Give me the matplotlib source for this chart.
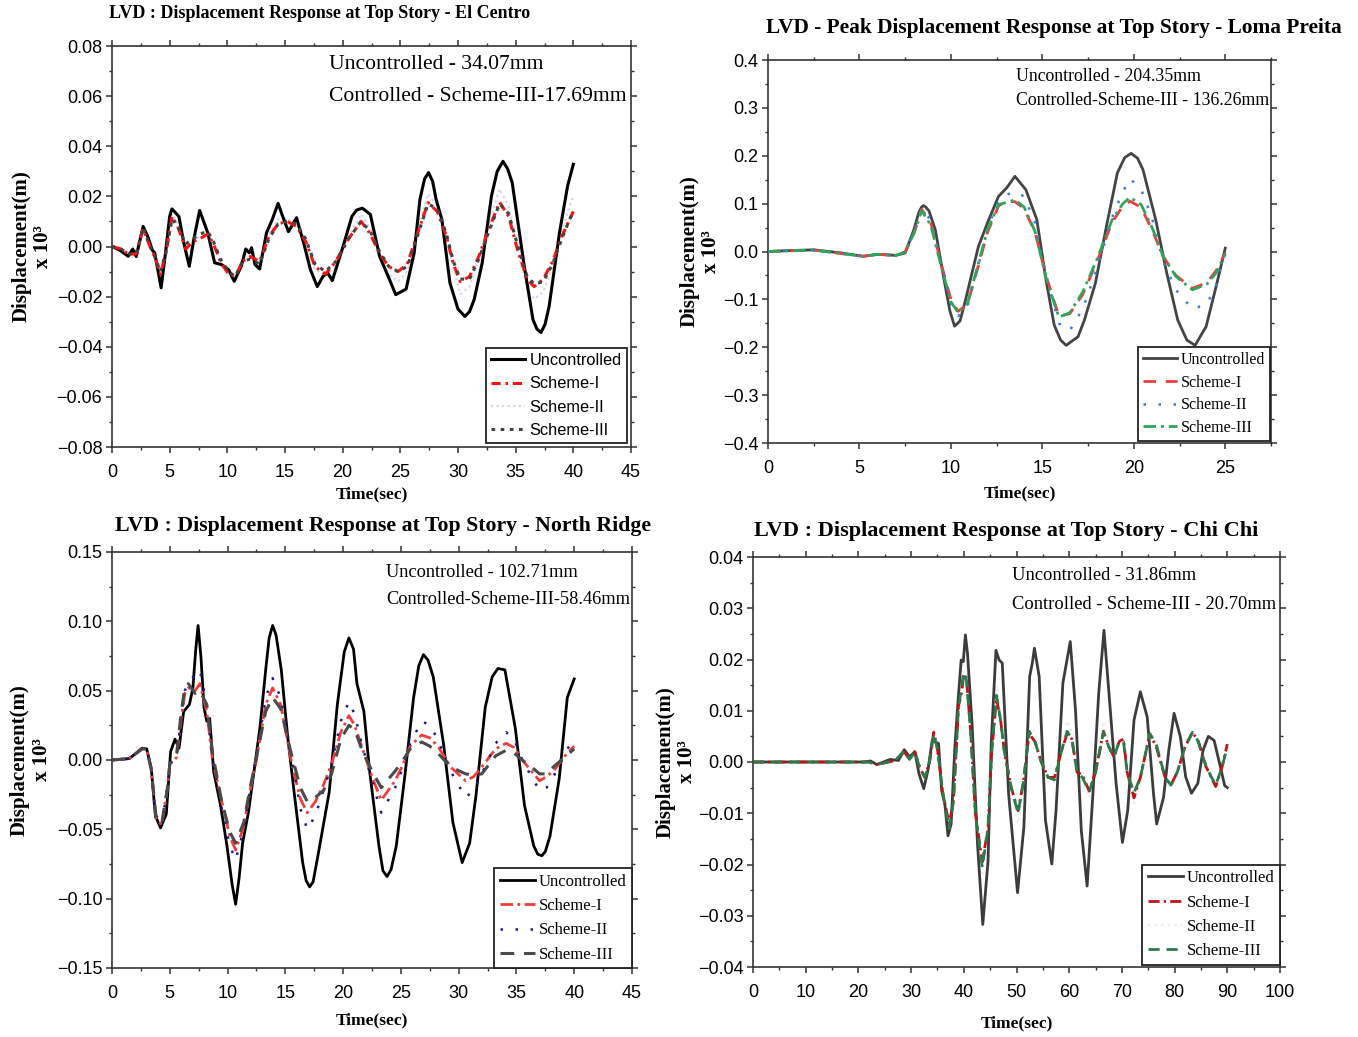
import matplotlib
matplotlib.use("Agg")
import matplotlib.pyplot as plt
from matplotlib import font_manager as fm
from matplotlib.ticker import MultipleLocator, FuncFormatter

# ---------------- El Centro ----------------
elc_t_unc = [0, 0.7, 1.4, 1.8, 2.1, 2.7, 3.1, 3.5, 3.7, 4.0, 4.26, 4.6, 5.0, 5.2, 5.8, 6.2, 6.7, 7.1,
             7.6, 8.3, 8.9, 9.5, 10.1, 10.6, 11.2, 11.6, 11.9, 12.1, 12.4, 12.8, 13.4, 13.9, 14.4,
             14.8, 15.3, 16.0, 16.7, 17.2, 17.8, 18.3, 18.7, 19.1, 20.0, 20.8, 21.2, 21.7, 22.4,
             23.2, 24.0, 24.6, 25.5, 26.2, 26.7, 27.1, 27.45, 27.8, 28.1, 28.6, 29.3, 30.0, 30.6,
             31.0, 31.4, 32.1, 32.9, 33.4, 33.9, 34.3, 34.7, 35.7, 36.5, 36.85, 37.2, 37.55, 37.9,
             38.8, 39.5, 40.0]
elc_unc = [0, -0.0015, -0.0039, -0.001, -0.004, 0.008, 0.004, -0.0015, -0.0025, -0.010, -0.0165,
           -0.004, 0.012, 0.015, 0.012, 0.002, -0.0079, 0.003, 0.0144, 0.0055, -0.0065, -0.0072,
           -0.0092, -0.0139, -0.0079, -0.001, -0.0025, -0.0005, -0.0072, -0.009, 0.0055, 0.0108,
           0.0172, 0.012, 0.0059, 0.0115, 0.0, -0.0092, -0.016, -0.0119, -0.0105, -0.0136, -0.0005,
           0.012, 0.0145, 0.0153, 0.0128, -0.0039, -0.0125, -0.0192, -0.017, -0.0025, 0.0188, 0.027,
           0.0295, 0.026, 0.0188, 0.0108, -0.0145, -0.025, -0.0279, -0.026, -0.0212, -0.0065,
           0.0201, 0.030, 0.034, 0.031, 0.0255, -0.0065, -0.0292, -0.033, -0.0343, -0.031, -0.0239,
           0.0055, 0.0241, 0.0328]
elc_t_ctrl = [0, 0.8, 1.4, 2.1, 2.7, 3.3, 3.7, 4.2, 4.7, 5.2, 5.7, 6.4, 7.0, 7.6, 8.3, 8.8, 9.4, 10.1,
              10.7, 11.3, 12.0, 12.8, 13.6, 14.4, 15.2, 16.0, 16.8, 17.6, 18.5, 19.4, 20.5, 21.6,
              22.4, 23.2, 24.0, 24.8, 25.6, 26.4, 27.4, 28.2, 29.0, 29.6, 30.2, 31.0, 31.8, 32.6,
              33.6, 34.4, 35.2, 36.0, 36.6, 37.4, 38.2, 39.0, 39.6, 40.0]
elc_s1 = [0, -0.001, -0.003, -0.003, 0.007, 0.0, -0.004, -0.011, -0.002, 0.012, 0.008, -0.001,
          0.002, 0.003, 0.005, 0.001, -0.006, -0.011, -0.012, -0.006, -0.004, -0.006, 0.004, 0.009,
          0.010, 0.008, 0.002, -0.008, -0.011, -0.006, 0.003, 0.010, 0.005, -0.003, -0.008, -0.010,
          -0.007, 0.004, 0.0175, 0.014, 0.004, -0.007, -0.014, -0.012, -0.004, 0.006, 0.0177, 0.012,
          -0.002, -0.013, -0.016, -0.013, -0.006, 0.004, 0.010, 0.014]
elc_s2 = [0, -0.001, -0.003, -0.003, 0.0075, 0.0, -0.004, -0.012, -0.002, 0.013, 0.009, -0.001,
          0.002, 0.004, 0.005, 0.001, -0.006, -0.012, -0.013, -0.006, -0.004, -0.007, 0.005, 0.011,
          0.011, 0.009, 0.002, -0.009, -0.012, -0.007, 0.004, 0.013, 0.007, -0.004, -0.011, -0.014,
          -0.010, 0.005, 0.021, 0.016, 0.004, -0.009, -0.019, -0.016, -0.005, 0.008, 0.023, 0.016,
          -0.002, -0.017, -0.021, -0.018, -0.008, 0.006, 0.015, 0.020]
elc_s3 = [0, -0.001, -0.003, -0.003, 0.0075, 0.0, -0.004, -0.010, -0.002, 0.011, 0.008, 0.001,
          0.003, 0.005, 0.006, 0.002, -0.005, -0.010, -0.012, -0.006, -0.005, -0.007, 0.003, 0.009,
          0.010, 0.009, 0.003, -0.007, -0.010, -0.006, 0.003, 0.010, 0.006, -0.002, -0.008, -0.010,
          -0.008, 0.003, 0.017, 0.015, 0.005, -0.006, -0.013, -0.013, -0.005, 0.005, 0.017, 0.013,
          0.0, -0.012, -0.015, -0.014, -0.007, 0.003, 0.010, 0.014]

# ---------------- Loma Preita ----------------
lp_t_unc = [0, 1.2, 2.5, 4.0, 5.2, 6.0, 7.0, 7.5, 7.97, 8.25, 8.4, 8.5, 8.62, 8.8, 9.15, 9.63, 9.95,
            10.2, 10.5, 10.8, 11.5, 12.0, 12.6, 13.05, 13.5, 14.1, 14.7, 15.2, 15.65, 16.0, 16.3,
            16.95, 17.3, 17.9, 18.5, 19.1, 19.5, 19.85, 20.2, 20.5, 21.2, 21.8, 22.4, 22.9, 23.35,
            23.95, 24.5, 25.0]
lp_unc = [0, 0.002, 0.0035, -0.003, -0.010, -0.006, -0.008, -0.003, 0.045, 0.082, 0.093, 0.096,
          0.093, 0.085, 0.045, -0.060, -0.125, -0.156, -0.145, -0.101, 0.010, 0.060, 0.115, 0.133,
          0.157, 0.129, 0.066, -0.060, -0.154, -0.185, -0.196, -0.178, -0.143, -0.066, 0.052,
          0.164, 0.196, 0.205, 0.195, 0.171, 0.066, -0.045, -0.143, -0.185, -0.196, -0.157,
          -0.073, 0.007]
lp_t_ctrl = [0, 2.5, 5.2, 6.0, 7.0, 7.5, 8.0, 8.4, 8.9, 9.5, 10.0, 10.4, 10.9, 11.5, 12.0, 12.6, 13.0,
             13.5, 14.0, 14.6, 15.2, 15.9, 16.5, 17.2, 18.0, 18.8, 19.4, 19.8, 20.4, 21.0, 21.6,
             22.3, 23.2, 24.0, 24.5, 25.0]
lp_s1 = [0, 0.003, -0.010, -0.006, -0.008, -0.001, 0.040, 0.088, 0.060, -0.030, -0.100, -0.125,
         -0.110, -0.030, 0.040, 0.095, 0.105, 0.104, 0.090, 0.040, -0.050, -0.135, -0.130, -0.090,
         -0.020, 0.060, 0.095, 0.105, 0.092, 0.045, -0.010, -0.050, -0.077, -0.065, -0.040, -0.003]
lp_s2 = [0, 0.003, -0.010, -0.006, -0.008, -0.001, 0.042, 0.090, 0.065, -0.030, -0.110, -0.135,
         -0.115, -0.030, 0.050, 0.105, 0.118, 0.125, 0.115, 0.060, -0.050, -0.150, -0.165, -0.120,
         -0.035, 0.070, 0.125, 0.152, 0.130, 0.070, -0.020, -0.080, -0.120, -0.110, -0.070, 0.000]
lp_s3 = [0, 0.003, -0.010, -0.006, -0.008, -0.001, 0.040, 0.085, 0.055, -0.035, -0.105, -0.128,
         -0.110, -0.025, 0.045, 0.098, 0.102, 0.108, 0.093, 0.042, -0.055, -0.137, -0.128, -0.085,
         -0.015, 0.065, 0.100, 0.113, 0.098, 0.050, -0.010, -0.052, -0.080, -0.068, -0.045, -0.005]

# ---------------- North Ridge ----------------
nr_t_unc = [0, 1.5, 2.6, 3.0, 3.4, 3.75, 4.2, 4.7, 5.07, 5.45, 5.8, 6.2, 6.7, 7.0, 7.25, 7.45, 7.7,
            7.96, 8.2, 8.45, 8.8, 9.4, 9.95, 10.4, 10.7, 11.0, 11.3, 11.8, 12.8, 13.3, 13.6, 13.9,
            14.2, 14.65, 15.2, 15.8, 16.5, 16.8, 17.1, 17.4, 17.8, 18.8, 19.5, 20.1, 20.5, 20.9,
            21.2, 21.8, 22.3, 23.1, 23.45, 23.8, 24.15, 24.6, 25.35, 26.1, 26.55, 26.95, 27.35,
            27.8, 28.7, 29.5, 30.3, 30.95, 31.5, 32.3, 32.9, 33.4, 34.0, 34.9, 35.7, 36.5, 36.85,
            37.2, 37.5, 37.9, 38.7, 39.4, 40.0]
nr_unc = [0, 0.001, 0.0085, 0.008, -0.006, -0.040, -0.049, -0.039, 0.006, 0.015, 0.0085, 0.035,
          0.040, 0.052, 0.080, 0.097, 0.074, 0.038, 0.028, 0.030, -0.0085, -0.033, -0.062, -0.090,
          -0.104, -0.085, -0.060, -0.038, 0.023, 0.065, 0.088, 0.097, 0.090, 0.065, 0.017, -0.026,
          -0.074, -0.087, -0.0915, -0.088, -0.070, -0.023, 0.040, 0.078, 0.088, 0.080, 0.055,
          0.035, -0.0085, -0.062, -0.080, -0.084, -0.079, -0.062, -0.011, 0.045, 0.068, 0.076,
          0.072, 0.060, 0.011, -0.045, -0.074, -0.060, -0.0255, 0.038, 0.060, 0.066, 0.065, 0.023,
          -0.033, -0.062, -0.068, -0.069, -0.066, -0.055, -0.0135, 0.045, 0.0585]
nr_t_ctrl = [0, 1.5, 2.6, 3.0, 3.4, 3.8, 4.3, 4.8, 5.0, 5.6, 6.0, 6.3, 6.6, 7.2, 7.6, 8.2, 8.7, 9.5,
             10.2, 10.7, 11.4, 12.0, 12.5, 13.3, 13.9, 14.6, 15.5, 16.3, 16.9, 17.6, 18.3, 19.0,
             19.8, 20.5, 21.0, 21.6, 22.5, 23.3, 24.5, 25.2, 25.8, 26.8, 27.5, 28.2, 29.3, 30.6,
             31.3, 32.0, 33.2, 34.1, 34.8, 35.5, 36.3, 37.0, 37.6, 38.2, 39.3, 40.0]
nr_s1 = [0, 0.001, 0.008, 0.008, -0.007, -0.042, -0.047, -0.020, -0.003, 0.002, 0.030, 0.048,
         0.052, 0.050, 0.055, 0.035, 0.0, -0.030, -0.055, -0.065, -0.048, -0.020, 0.0, 0.040, 0.052,
         0.040, 0.0, -0.028, -0.038, -0.030, -0.018, -0.003, 0.020, 0.032, 0.025, 0.010, -0.012,
         -0.029, -0.015, -0.003, 0.010, 0.018, 0.016, 0.010, -0.005, -0.015, -0.012, -0.005, 0.008,
         0.012, 0.009, 0.0, -0.008, -0.015, -0.012, -0.008, 0.004, 0.010]
nr_s2 = [0, 0.001, 0.008, 0.008, -0.007, -0.042, -0.047, -0.020, -0.003, 0.003, 0.030, 0.050,
         0.055, 0.062, 0.065, 0.040, 0.0, -0.035, -0.062, -0.072, -0.050, -0.020, 0.003, 0.045,
         0.059, 0.045, 0.005, -0.035, -0.050, -0.040, -0.022, -0.003, 0.028, 0.042, 0.033, 0.012,
         -0.015, -0.038, -0.020, -0.005, 0.012, 0.028, 0.025, 0.015, -0.008, -0.027, -0.022, -0.010,
         0.012, 0.020, 0.015, 0.0, -0.012, -0.022, -0.020, -0.012, 0.006, 0.017]
nr_s3 = [0, 0.001, 0.008, 0.008, -0.007, -0.040, -0.046, -0.020, -0.003, 0.005, 0.035, 0.052,
         0.055, 0.048, 0.050, 0.040, 0.005, -0.030, -0.052, -0.060, -0.045, -0.018, 0.002, 0.035,
         0.045, 0.037, 0.005, -0.020, -0.030, -0.027, -0.022, -0.010, 0.015, 0.025, 0.022, 0.008,
         -0.008, -0.020, -0.008, 0.0, 0.008, 0.013, 0.010, 0.005, -0.005, -0.010, -0.011, -0.010,
         0.003, 0.007, 0.005, 0.0, -0.005, -0.010, -0.010, -0.005, 0.003, 0.008]

# ---------------- Chi Chi ----------------
cc_t_unc = [0, 21.0, 22.3, 23.5, 26.0, 27.6, 28.7, 29.7, 30.7, 31.5, 32.4, 33.2, 34.0, 34.6, 35.2,
            35.8, 36.4, 37.0, 37.6, 38.3, 38.9, 39.5, 39.9, 40.3, 40.7, 41.6, 42.6, 43.6, 44.6,
            45.2, 46.1, 46.7, 47.3, 48.5, 50.2, 51.4, 52.5, 53.0, 53.4, 54.3, 55.5, 56.7, 57.5,
            58.8, 60.2, 61.2, 62.3, 63.4, 64.5, 65.6, 66.6, 67.6, 68.9, 70.1, 71.1, 72.3, 73.5,
            74.8, 76.0, 76.6, 77.9, 78.9, 79.9, 81.1, 82.1, 83.2, 84.4, 85.4, 86.4, 87.5, 88.7,
            89.5, 90.0]
cc_unc = [0, 0, 0.0002, -0.0005, 0.0005, 0.0003, 0.0024, 0.001, 0.002, -0.0023, -0.0052, -0.0016,
          0.0042, 0.0039, 0.0036, -0.0056, -0.0082, -0.0144, -0.0121, 0.0029, 0.0118, 0.0199,
          0.0196, 0.0248, 0.0212, 0.0069, -0.016, -0.0317, -0.0193, 0.0036, 0.0218, 0.0199,
          0.0193, -0.0062, -0.0255, -0.0127, 0.0167, 0.0193, 0.0222, 0.0167, -0.0114, -0.0199,
          -0.0095, 0.0154, 0.0235, 0.0101, -0.0134, -0.0242, -0.0062, 0.0134, 0.0257, 0.0127,
          -0.0042, -0.0157, -0.0095, 0.0082, 0.0137, 0.0088, -0.0062, -0.0121, -0.0069, 0.0023,
          0.0095, 0.0049, -0.0029, -0.0061, -0.0042, 0.0023, 0.005, 0.0042, -0.001, -0.0046,
          -0.005]
cc_t_ctrl = [0, 22.0, 23.5, 27.0, 28.7, 29.7, 30.7, 31.6, 32.6, 33.5, 34.3, 35.0, 36.0, 37.2, 38.0,
             38.6, 39.0, 39.5, 40.0, 40.5, 41.3, 42.2, 43.5, 44.6, 45.3, 46.2, 47.0, 47.7, 49.0,
             50.3, 51.3, 52.4, 53.5, 54.7, 56.0, 57.2, 58.5, 59.6, 60.5, 61.5, 62.5, 63.8, 65.0,
             66.5, 67.5, 68.5, 69.5, 70.3, 71.0, 72.3, 73.5, 75.3, 76.5, 78.2, 79.3, 80.5, 82.0,
             83.4, 84.5, 86.0, 87.8, 89.0, 90.0]
cc_s1 = [0, 0, -0.0005, 0.0003, 0.002, 0.0005, 0.002, -0.001, -0.003, 0.0, 0.0058, 0.0025, -0.006,
         -0.012, -0.008, 0.003, 0.011, 0.013, 0.017, 0.0165, 0.006, -0.010, -0.0195, -0.013, 0.002,
         0.0125, 0.008, 0.002, -0.005, -0.0095, -0.004, 0.0055, 0.004, 0.0, -0.003, -0.003, 0.002,
         0.0055, 0.0045, -0.002, -0.0025, -0.0057, -0.002, 0.006, 0.003, 0.001, 0.004, 0.0045,
         -0.002, -0.007, -0.003, 0.0055, 0.003, -0.003, -0.0045, -0.002, 0.003, 0.0058, 0.004,
         -0.001, -0.0048, -0.001, 0.0035]
cc_s2 = [0, 0, -0.0005, 0.0003, 0.0022, 0.0005, 0.002, -0.0012, -0.0035, 0.0, 0.0065, 0.003,
         -0.007, -0.014, -0.009, 0.004, 0.013, 0.016, 0.020, 0.019, 0.007, -0.012, -0.023, -0.015,
         0.002, 0.015, 0.010, 0.002, -0.006, -0.012, -0.005, 0.007, 0.006, 0.0, -0.004, -0.004,
         0.003, 0.008, 0.006, -0.003, -0.004, -0.007, -0.002, 0.008, 0.004, 0.001, 0.005, 0.005,
         -0.003, -0.008, -0.004, 0.006, 0.004, -0.004, -0.005, -0.002, 0.004, 0.006, 0.004, -0.001,
         -0.005, -0.001, 0.003]
cc_s3 = [0, 0, -0.0005, 0.0003, 0.0022, 0.0005, 0.002, -0.001, -0.003, 0.0, 0.0055, 0.0025,
         -0.0058, -0.013, -0.008, 0.003, 0.011, 0.014, 0.0175, 0.016, 0.006, -0.010, -0.0205,
         -0.013, 0.002, 0.013, 0.008, 0.002, -0.005, -0.010, -0.004, 0.006, 0.004, 0.0, -0.003,
         -0.0035, 0.002, 0.006, 0.0045, -0.002, -0.003, -0.0058, -0.002, 0.0058, 0.003, 0.001,
         0.004, 0.004, -0.002, -0.006, -0.003, 0.0055, 0.0035, -0.003, -0.0045, -0.002, 0.003,
         0.0058, 0.004, -0.001, -0.0045, -0.001, 0.003]

series_labels = ["Uncontrolled", "Scheme-I", "Scheme-II", "Scheme-III"]

titles = ["LVD : Displacement Response at Top Story - El Centro",
          "LVD - Peak Displacement Response at Top Story - Loma Preita",
          "LVD : Displacement Response at Top Story - North Ridge",
          "LVD : Displacement Response at Top Story - Chi Chi"]
notes = [("Uncontrolled - 34.07mm", "Controlled - Scheme-III-17.69mm"),
         ("Uncontrolled - 204.35mm", "Controlled-Scheme-III - 136.26mm"),
         ("Uncontrolled - 102.71mm", "Controlled-Scheme-III-58.46mm"),
         ("Uncontrolled - 31.86mm", "Controlled - Scheme-III - 20.70mm")]

# ---------------- fonts ----------------
installed = {f.name for f in fm.fontManager.ttflist}
SERIF = "Liberation Serif"
if "Liberation Sans Narrow" in installed:
    SANS, TICK_FS, LEG_SANS_FS = "Liberation Sans Narrow", 15, 14
else:
    SANS, TICK_FS, LEG_SANS_FS = "Liberation Sans", 13, 11.8

W, H = 1358, 1037
fig = plt.figure(figsize=(W / 100, H / 100), dpi=100)


def px_axes(left, top, right, bottom):
    return fig.add_axes([left / W, 1 - bottom / H, (right - left) / W, (bottom - top) / H])


def fmt(decimals):
    def f(v, pos):
        if abs(v) < 1e-9:
            v = 0.0
        s = ("%." + str(decimals) + "f") % abs(v)
        return s if v >= 0 else "\u2212" + s
    return FuncFormatter(f)


def style_axes(ax, xlim, ylim, xmaj, xmin, ymaj, ymin, ydec):
    ax.set_xlim(*xlim)
    ax.set_ylim(*ylim)
    ax.xaxis.set_major_locator(MultipleLocator(xmaj))
    ax.xaxis.set_minor_locator(MultipleLocator(xmin))
    ax.yaxis.set_major_locator(MultipleLocator(ymaj))
    ax.yaxis.set_minor_locator(MultipleLocator(ymin))
    ax.yaxis.set_major_formatter(fmt(ydec))
    ax.xaxis.set_major_formatter(FuncFormatter(lambda v, p: "%d" % round(v)))
    ax.tick_params(which="both", direction="out", top=True, right=True,
                   labeltop=False, labelright=False, colors="#333333")
    ax.tick_params(which="major", length=4, width=1.1, labelsize=TICK_FS, labelcolor="black")
    ax.tick_params(axis="y", which="major", pad=3)
    ax.tick_params(axis="x", which="major", pad=8)
    ax.tick_params(which="minor", length=2.2, width=1.0)
    for lab in ax.get_xticklabels() + ax.get_yticklabels():
        lab.set_fontfamily(SANS)
    for s in ax.spines.values():
        s.set_linewidth(1.2)
        s.set_color("#333333")


def add_texts(ax, i, note_xy, note_fs, ylab_x, xlab_y, leg_anchor, leg_font, leg_fs, leg_sp):
    x0, y1, y2 = note_xy
    ax.text(x0, y1, notes[i][0], transform=ax.transAxes, family=SERIF, fontsize=note_fs,
            ha="left", va="center")
    ax.text(x0, y2, notes[i][1], transform=ax.transAxes, family=SERIF, fontsize=note_fs,
            ha="left", va="center")
    ax.set_xlabel("Time(sec)", family=SERIF, fontweight="bold", fontsize=12.5, va="center")
    ax.xaxis.set_label_coords(0.5, xlab_y)
    ax.set_ylabel("Displacement(m)\nx 10\u00b3", family=SERIF, fontweight="bold", fontsize=15,
                  va="center", linespacing=1.12)
    ax.yaxis.set_label_coords(ylab_x, 0.5)
    leg = ax.legend(loc="lower right", bbox_to_anchor=leg_anchor, borderaxespad=0,
                    prop={"family": leg_font, "size": leg_fs}, frameon=True, fancybox=False,
                    edgecolor="#222222", framealpha=1, handlelength=2.1, handletextpad=0.25,
                    labelspacing=leg_sp, borderpad=0.32)
    leg.get_frame().set_linewidth(1.3)


# ---------------- Panel 1: El Centro ----------------
ax1 = px_axes(112, 46, 631, 447)
ax1.plot(elc_t_unc, elc_unc, color="black", lw=2.2, label=series_labels[0], zorder=3)
ax1.plot(elc_t_ctrl, elc_s1, color="#ff1010", lw=2.2, ls=(0, (3, 1.6, 0.8, 1.6)),
         label=series_labels[1], zorder=4)
ax1.plot(elc_t_ctrl, elc_s2, color="#d6d6ee", lw=1.6, ls=(0, (1, 1.5)),
         label=series_labels[2], zorder=2)
ax1.plot(elc_t_ctrl, elc_s3, color="#444444", lw=2.2, ls=(0, (1.2, 1.8)),
         label=series_labels[3], zorder=5)
style_axes(ax1, (0, 45), (-0.08, 0.08), 5, 2.5, 0.02, 0.01, 2)
add_texts(ax1, 0, (0.418, 0.953, 0.873), 15.6, -0.154, -0.117, (0.992, 0.01), SANS,
          LEG_SANS_FS, 0.5)
fig.text(320 / W, 1 - 14 / H, titles[0], family=SERIF, fontweight="bold", fontsize=13,
         ha="center", va="center")

# ---------------- Panel 2: Loma Preita ----------------
ax2 = px_axes(768, 60, 1271, 443)
ax2.plot(lp_t_unc, lp_unc, color="#444444", lw=2.0, label=series_labels[0], zorder=3)
ax2.plot(lp_t_ctrl, lp_s1, color="#f03c3c", lw=2.0, ls=(0, (4.5, 3.5)),
         label=series_labels[1], zorder=4)
ax2.plot(lp_t_ctrl, lp_s2, color="#3a7ae0", lw=1.8, ls=(0, (1, 5)),
         label=series_labels[2], zorder=4)
ax2.plot(lp_t_ctrl, lp_s3, color="#2ea55c", lw=2.0, ls=(0, (4.5, 1.8, 1, 1.8)),
         label=series_labels[3], zorder=5)
style_axes(ax2, (0, 27.5), (-0.4, 0.4), 5, 2.5, 0.1, 0.05, 1)
add_texts(ax2, 1, (0.494, 0.958, 0.893), 12.8, -0.134, -0.1305, (0.998, 0.005), SERIF,
          11.5, 0.42)
fig.text(1054 / W, 1 - 28 / H, titles[1], family=SERIF, fontweight="bold", fontsize=15.4,
         ha="center", va="center")

# ---------------- Panel 3: North Ridge ----------------
ax3 = px_axes(112, 552, 632, 968)
ax3.plot(nr_t_unc, nr_unc, color="black", lw=2.0, label=series_labels[0], zorder=3)
ax3.plot(nr_t_ctrl, nr_s1, color="#f23c3c", lw=2.0, ls=(0, (4.5, 1.6, 1, 1.6)),
         label=series_labels[1], zorder=4)
ax3.plot(nr_t_ctrl, nr_s2, color="#1c1c8c", lw=1.8, ls=(0, (1, 5)),
         label=series_labels[2], zorder=4)
ax3.plot(nr_t_ctrl, nr_s3, color="#4a4a4a", lw=2.2, ls=(0, (4.5, 3.2)),
         label=series_labels[3], zorder=5)
style_axes(ax3, (0, 45), (-0.15, 0.15), 5, 2.5, 0.05, 0.025, 2)
add_texts(ax3, 2, (0.527, 0.95, 0.885), 13.2, -0.156, -0.127, (1.0, 0.0), SERIF, 12, 0.5)
fig.text(383 / W, 1 - 526 / H, titles[2], family=SERIF, fontweight="bold", fontsize=15.7,
         ha="center", va="center")

# ---------------- Panel 4: Chi Chi ----------------
ax4 = px_axes(753, 557, 1280, 967)
ax4.plot(cc_t_unc, cc_unc, color="#3c3c3c", lw=2.0, label=series_labels[0], zorder=3)
ax4.plot(cc_t_ctrl, cc_s1, color="#c01414", lw=2.0, ls=(0, (4, 1.5, 0.8, 1.5)),
         label=series_labels[1], zorder=4)
ax4.plot(cc_t_ctrl, cc_s2, color="#ececf6", lw=1.6, ls=(0, (1, 2)),
         label=series_labels[2], zorder=2)
ax4.plot(cc_t_ctrl, cc_s3, color="#2a7a4c", lw=2.0, ls=(0, (4, 2.5)),
         label=series_labels[3], zorder=5)
style_axes(ax4, (0, 100), (-0.04, 0.04), 10, 5, 0.01, 0.005, 2)
add_texts(ax4, 3, (0.4915, 0.954, 0.885), 13.3, -0.146, -0.137, (1.0, 0.006), SERIF, 12, 0.5)
fig.text(1006 / W, 1 - 531 / H, titles[3], family=SERIF, fontweight="bold", fontsize=16,
         ha="center", va="center")

fig.savefig("out.png", dpi=100, facecolor="white")
